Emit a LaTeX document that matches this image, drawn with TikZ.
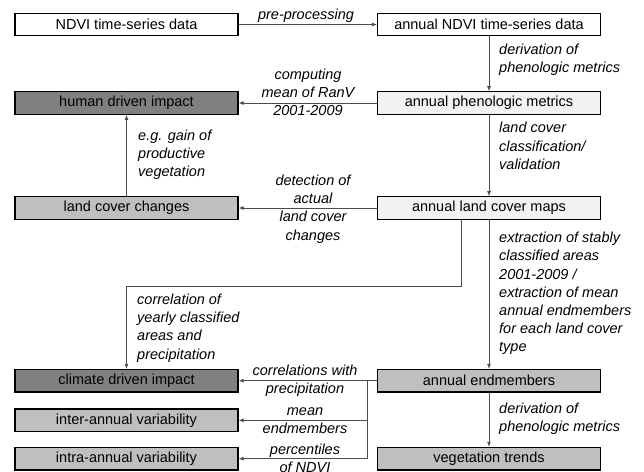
\documentclass[tikz,border=0pt]{standalone}
\usepackage{fontspec}
\setmainfont{Liberation Sans}
\usetikzlibrary{arrows.meta}
\definecolor{darkfill}{HTML}{808080}
\definecolor{midfill}{HTML}{BFBFBF}
\definecolor{lightfill}{HTML}{F2F2F2}
\begin{document}
\begin{tikzpicture}[x=1pt,y=-1pt,
  box/.style={draw=black,line width=1.2pt,minimum width=223pt,minimum height=22.5pt,inner sep=0pt,font=\fontsize{14.5}{17.8}\selectfont},
  conn/.style={draw=black!70,line width=0.8pt,-{Latex[length=5pt,width=4pt]}},
  plain/.style={draw=black!70,line width=0.8pt},
  lab/.style={font=\fontsize{14.5}{18.2}\selectfont\itshape,inner sep=0pt},
  labl/.style={lab,align=left,anchor=west},
  labc/.style={lab,align=center},
]
\useasboundingbox (0,0) rectangle (644,471);
% boxes
\node[box] (ndvi) at (126.5,24.5) {NDVI time-series data};
\node[box] (andvi) at (489,24.5) {annual NDVI time-series data};
\node[box,fill=darkfill] (human) at (126.5,103) {human driven impact};
\node[box,fill=lightfill] (pheno) at (489,103) {annual phenologic metrics};
\node[box,fill=midfill] (lcc) at (126.5,208) {land cover changes};
\node[box,fill=lightfill] (lcm) at (489,208) {annual land cover maps};
\node[box,fill=darkfill] (climate) at (126.5,380.7) {climate driven impact};
\node[box,fill=midfill] (endm) at (489,380.7) {annual endmembers};
\node[box,fill=midfill] (inter) at (126.5,420.3) {inter-annual variability};
\node[box,fill=midfill] (intra) at (126.5,458.7) {intra-annual variability};
\node[box,fill=midfill] (trends) at (489,458.7) {vegetation trends};
% connectors
\draw[conn] (ndvi) -- (andvi);
\draw[conn] (andvi) -- (pheno);
\draw[conn] (pheno) -- (human);
\draw[conn] (lcc) -- (human);
\draw[conn] (pheno) -- (lcm);
\draw[conn] (lcm) -- (lcc);
\draw[conn] (lcm) -- (endm);
\draw[conn] (endm) -- (trends);
\coordinate (bend) at (461,286);
\draw[conn] (lcm.south -| bend) -- (bend) -- (bend -| climate) -- (climate);
\coordinate (junc) at (367,380.7);
\draw[conn] (endm) -- (climate);
\draw[plain] (junc) -- (junc |- intra);
\draw[conn] (junc |- inter) -- (inter);
\draw[conn] (junc |- intra) -- (intra);
% labels
\node[labc] (lpre) at (306,15.5) {pre-processing};
\node[labl] (lder1) at (499,60) {derivation of\\phenologic metrics};
\node[labc] (lcomp) at (308,92.5) {computing\\mean of RanV\\2001-2009};
\node[labl] (leg) at (138,155) {e.g. gain of\\productive\\vegetation};
\node[labl] (lclass) at (499,146) {land cover\\classification/\\validation};
\node[labc] (ldet) at (313,209) {detection of\\actual\\land cover\\changes};
\node[labl] (lcorr) at (137,328) {correlation of\\yearly classified\\areas and\\precipitation};
\node[labl] (lext) at (499,293.5) {extraction of stably\\classified areas\\2001-2009 /\\extraction of mean\\annual endmembers\\for each land cover\\type};
\node[labc] (lcorp) at (305,381) {correlations with\\precipitation};
\node[labc] (lmean) at (305,420.3) {mean\\endmembers};
\node[labc] (lperc) at (305,458.5) {percentiles\\of NDVI};
\node[labl] (lder2) at (499,419) {derivation of\\phenologic metrics};
\end{tikzpicture}
\end{document}
